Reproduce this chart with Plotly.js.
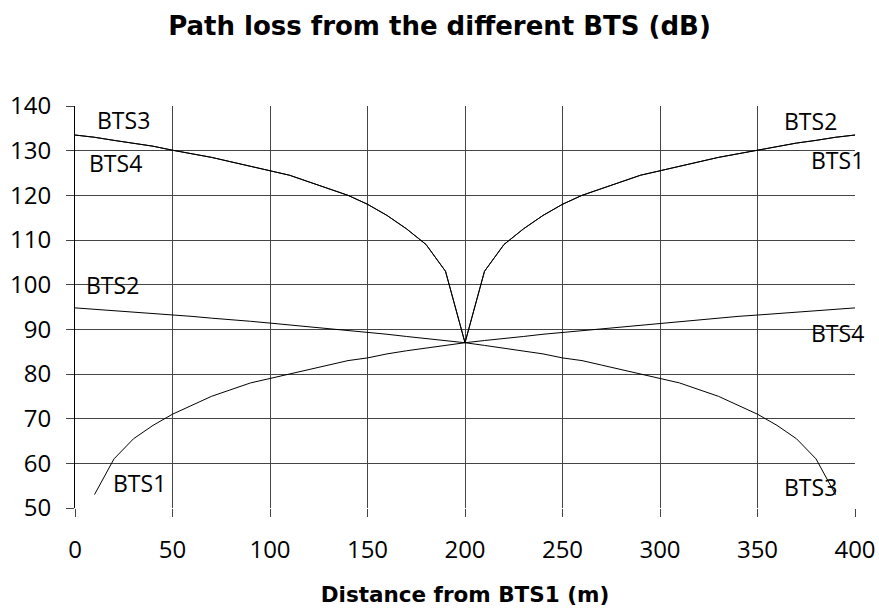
<!DOCTYPE html>
<html>
<head>
<meta charset="utf-8">
<script src="https://cdn.plot.ly/plotly-3.0.1.min.js"></script>
<style>html,body{margin:0;padding:0;background:#fff;}#chart{width:879px;height:614px;}</style>
</head>
<body>
<div id="chart"></div>
<script>
// Distances (m)
const xFull = [0,10,20,30,40,50,60,70,80,90,100,110,120,130,140,150,160,170,180,190,200,
               210,220,230,240,250,260,270,280,290,300,310,320,330,340,350,360,370,380,390,400];

// BTS1: starts at 10 m
const bts1X = xFull.slice(1);
const bts1Y = [53,61,65.5,68.5,71,73,75,76.5,78,79,80,81,82,83,83.6,84.5,85.2,85.8,86.4,87,
               103,109,112.5,115.5,118,120,121.5,123,124.5,125.5,126.5,127.5,128.5,129.3,130.1,131,131.7,132.3,133,133.5];

// BTS3: ends at 390 m
const bts3X = xFull.slice(0, 40);
const bts3Y = [133.5,133,132.3,131.7,131,130.1,129.3,128.5,127.5,126.5,125.5,124.5,123,121.5,120,118,115.5,112.5,109,103,
               87,86.4,85.8,85.2,84.5,83.6,83,82,81,80,79,78,76.5,75,73,71,68.5,65.5,61,53];

// BTS2
const bts2X = xFull;
const bts2Y = [94.8,94.5,94.2,93.9,93.5,93.2,92.9,92.5,92.2,91.8,91.4,91,90.6,90.2,89.8,89.3,88.9,88.4,87.9,87.5,87,
               103,109,112.5,115.5,118,120,121.5,123,124.5,125.5,126.5,127.5,128.5,129.3,130.1,131,131.7,132.3,133,133.5];

// BTS4
const bts4X = xFull;
const bts4Y = [133.5,133,132.3,131.7,131,130.1,129.3,128.5,127.5,126.5,125.5,124.5,123,121.5,120,118,115.5,112.5,109,103,
               87,87.5,87.9,88.4,88.9,89.3,89.8,90.2,90.6,91,91.4,91.8,92.2,92.5,92.9,93.2,93.5,93.9,94.2,94.5,94.8];

// Curve labels
const labelText = ["BTS3","BTS4","BTS2","BTS1","BTS2","BTS1","BTS4","BTS3"];
const labelX = [25,21,19,33,377,391,391,377];
const labelY = [136.9,127.3,100,55.7,136.6,128,89.2,54.8];

const xTicks = [0,50,100,150,200,250,300,350,400];
const yTicks = [50,60,70,80,90,100,110,120,130,140];

const FONT = 'Open Sans';
const BFONT = 'DejaVu Sans';
const line = {color:'#000', width:1};
const mk = (x,y,name) => ({x, y, name, type:'scatter', mode:'lines', line, hoverinfo:'skip'});

const traces = [mk(bts1X,bts1Y,'BTS1'), mk(bts2X,bts2Y,'BTS2'), mk(bts3X,bts3Y,'BTS3'), mk(bts4X,bts4Y,'BTS4')];

const annotations = labelText.map((t,i) => ({
  x: labelX[i], y: labelY[i], xref:'x', yref:'y', text:t, showarrow:false,
  font:{family:FONT, size:23, color:'#000'}
}));

const layout = {
  width:879, height:614,
  margin:{l:75, r:24, t:106, b:106},
  paper_bgcolor:'#fff', plot_bgcolor:'#fff',
  showlegend:false,
  title:{text:'<b>Path loss from the different BTS (dB)</b>', x:0.5, xref:'container', xanchor:'center',
         y:0.958, yref:'container', yanchor:'middle',
         font:{family:BFONT, size:26, color:'#000'}},
  xaxis:{range:[0,400], tickvals:xTicks, ticktext:xTicks.map(String),
         showgrid:true, gridcolor:'#444', gridwidth:1,
         ticks:'outside', ticklen:8, tickcolor:'#444', ticklabelstandoff:12,
         showline:false, zeroline:false,
         tickfont:{family:FONT, size:24, color:'#000'},
         title:{text:'<b>Distance from BTS1 (m)</b>', font:{family:BFONT, size:21.5, color:'#000'}, standoff:23}},
  yaxis:{range:[50,140], tickvals:yTicks, ticktext:yTicks.map(String),
         showgrid:true, gridcolor:'#444', gridwidth:1,
         ticks:'outside', ticklen:8, tickcolor:'#444', ticklabelstandoff:10,
         showline:true, linecolor:'#000', linewidth:1, zeroline:false,
         tickfont:{family:FONT, size:24, color:'#000'}},
  annotations
};

Plotly.newPlot('chart', traces, layout, {displayModeBar:false, staticPlot:true});
</script>
</body>
</html>
